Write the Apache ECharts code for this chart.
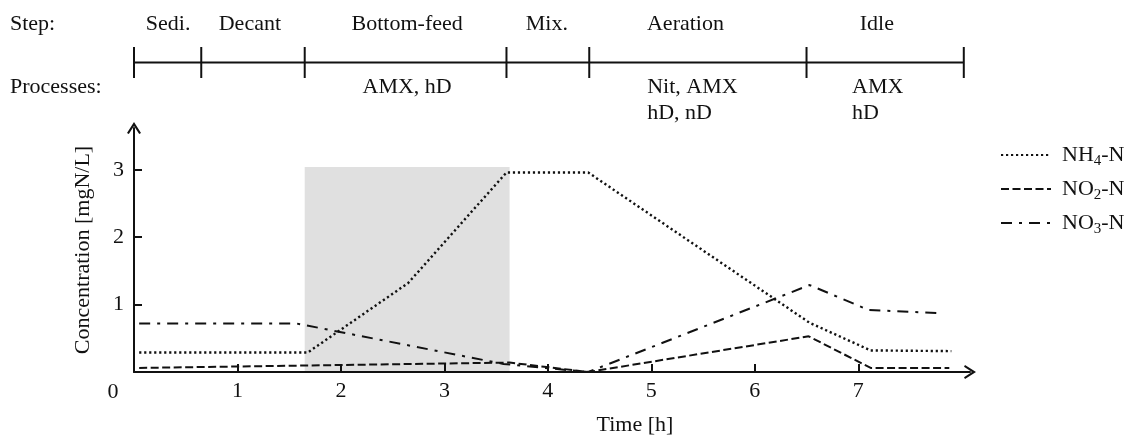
<!DOCTYPE html>
<html>
<head>
<meta charset="utf-8">
<script src="https://cdn.jsdelivr.net/npm/echarts@6/dist/echarts.min.js"></script>
<style>
  html, body { margin: 0; padding: 0; background: #fff; }
  #chart { width: 1127px; height: 441px; }
</style>
</head>
<body>
<div id="chart"></div>
<script>
// Concentration profiles over one SBR cycle [h, mgN/L]
const nh4 = [[0.05, 0.29], [1.68, 0.29], [2.65, 1.32], [3.6, 2.96], [4.39, 2.96], [6.53, 0.73], [7.12, 0.32], [7.9, 0.31]];
const no2 = [[0.05, 0.06], [3.63, 0.14], [4.39, 0.0], [6.52, 0.53], [7.12, 0.06], [7.88, 0.06]];
const no3 = [[0.05, 0.72], [1.57, 0.72], [3.57, 0.12], [4.39, 0.0], [6.53, 1.29], [7.1, 0.92], [7.82, 0.87]];

const seriesNames = ['NH4-N', 'NO2-N', 'NO3-N'];
const legendLabels = ['NH{sub|4}-N', 'NO{sub|2}-N', 'NO{sub|3}-N'];

// Cycle steps: boundaries [h], names and label centres [h]
const stepBounds = [0, 0.65, 1.65, 3.6, 4.4, 6.5, 8.02];
const stepNames = ['Sedi.', 'Decant', 'Bottom-feed', 'Mix.', 'Aeration', 'Idle'];
const stepLabelAt = [0.33, 1.12, 2.64, 3.99, 5.33, 7.18];

// Active processes per step: [h, text, alignment]
const processLabels = [
  [2.64, 'AMX, hD', 'center'],
  [4.96, 'Nit, AMX\nhD, nD', 'left'],
  [6.94, 'AMX\nhD', 'left']
];

// Shaded bottom-feed window [start h, end h, top mgN/L]
const feedWindow = [1.65, 3.63, 3.04];

const xTicks = [1, 2, 3, 4, 5, 6, 7];
const yTicks = [1, 2, 3];

const FONT = '"Liberation Serif", "Times New Roman", serif';
const INK = '#111';
const FS = 22;
const chevron = 'path://M0,11 L7,0 L14,11 L12.2,12 L7,4 L1.8,12 Z';

const chart = echarts.init(document.getElementById('chart'), null, { renderer: 'canvas' });

const lineStyleOf = (dash, w) => ({ color: INK, width: w || 2, type: dash });

const option = {
  animation: false,
  textStyle: { fontFamily: FONT, color: INK },
  grid: [
    { left: 134, right: 157, top: 128, bottom: 65 },
    { left: 134, right: 157, top: 47, height: 31 }
  ],
  xAxis: [
    {
      gridIndex: 0, type: 'value', min: 0, max: 8.08, z: 5,
      name: 'Time [h]', nameLocation: 'middle', nameGap: 42,
      nameTextStyle: { fontFamily: FONT, fontSize: FS, color: INK, padding: [0, 0, 0, 166] },
      axisLine: { show: true, symbol: ['none', chevron], symbolSize: [14, 12], lineStyle: { color: INK, width: 2 } },
      axisTick: { show: true, inside: true, length: 8, customValues: xTicks, lineStyle: { color: INK, width: 2 } },
      axisLabel: { customValues: xTicks, margin: 8, fontFamily: FONT, fontSize: FS, color: INK },
      splitLine: { show: false }
    },
    { gridIndex: 1, type: 'value', min: 0, max: 8.08, show: false }
  ],
  yAxis: [
    {
      gridIndex: 0, type: 'value', min: 0, max: 3.62, z: 5,
      name: 'Concentration [mgN/L]', nameLocation: 'middle', nameGap: 40,
      nameTextStyle: { fontFamily: FONT, fontSize: FS, color: INK },
      axisLine: { show: true, symbol: ['none', chevron], symbolSize: [14, 12], lineStyle: { color: INK, width: 2 } },
      axisTick: { show: true, inside: true, length: 8, customValues: yTicks, lineStyle: { color: INK, width: 2 } },
      axisLabel: { customValues: yTicks, margin: 10, fontFamily: FONT, fontSize: FS, color: INK },
      splitLine: { show: false }
    },
    { gridIndex: 1, type: 'value', min: -1, max: 1, show: false }
  ],
  legend: {
    data: seriesNames,
    orient: 'vertical',
    left: 995,
    top: 136,
    itemWidth: 50,
    itemHeight: 14,
    itemGap: 6,
    itemStyle: { opacity: 0 },
    formatter: (name) => legendLabels[seriesNames.indexOf(name)],
    textStyle: {
      fontFamily: FONT, fontSize: FS, color: INK, lineHeight: 28, padding: [0, 0, 0, 6],
      rich: { sub: { fontFamily: FONT, fontSize: 15, lineHeight: 15, verticalAlign: 'bottom', color: INK } }
    }
  },
  series: [
    {
      name: 'feed window', type: 'line', data: [], z: 1, silent: true,
      markArea: {
        silent: true,
        itemStyle: { color: '#e0e0e0' },
        data: [[{ xAxis: feedWindow[0], yAxis: 0 }, { xAxis: feedWindow[1], yAxis: feedWindow[2] }]]
      }
    },
    { name: seriesNames[0], type: 'line', data: nh4, symbol: 'none', showSymbol: false, z: 3, lineStyle: lineStyleOf([2.2, 2.8], 2.4), itemStyle: { color: INK } },
    { name: seriesNames[1], type: 'line', data: no2, symbol: 'none', showSymbol: false, z: 3, lineStyle: lineStyleOf([8, 3.5]), itemStyle: { color: INK } },
    { name: seriesNames[2], type: 'line', data: no3, symbol: 'none', showSymbol: false, z: 3, lineStyle: lineStyleOf([11, 7, 3, 7]), itemStyle: { color: INK } },
    {
      name: 'steps', type: 'line', xAxisIndex: 1, yAxisIndex: 1, silent: true,
      data: stepBounds.map((b) => [b, 0]),
      symbol: 'rect', symbolSize: [2, 31],
      lineStyle: { color: INK, width: 2 }, itemStyle: { color: INK }
    }
  ]
};

chart.setOption(option);

// Header texts and the shared origin label, placed on the time scale
const px = (h) => chart.convertToPixel({ xAxisIndex: 0 }, h);
const origin = chart.convertToPixel({ xAxisIndex: 0, yAxisIndex: 0 }, [0, 0]);
const txt = (text, x, y, align) => ({
  type: 'text', silent: true,
  style: { text, x, y, align, verticalAlign: 'middle', font: FS + 'px ' + FONT, fill: INK, lineHeight: 26 }
});

const graphics = [
  txt('Step:', 10, 24, 'left'),
  txt('Processes:', 10, 87, 'left'),
  txt('0', origin[0] - 21, origin[1] + 20, 'center')
];
stepNames.forEach((n, i) => graphics.push(txt(n, px(stepLabelAt[i]), 24, 'center')));
processLabels.forEach(([h, t, a]) => {
  const g = txt(t, px(h), 87 - 13, a);
  g.style.verticalAlign = 'top';
  graphics.push(g);
});

chart.setOption({ graphic: graphics });
</script>
</body>
</html>
